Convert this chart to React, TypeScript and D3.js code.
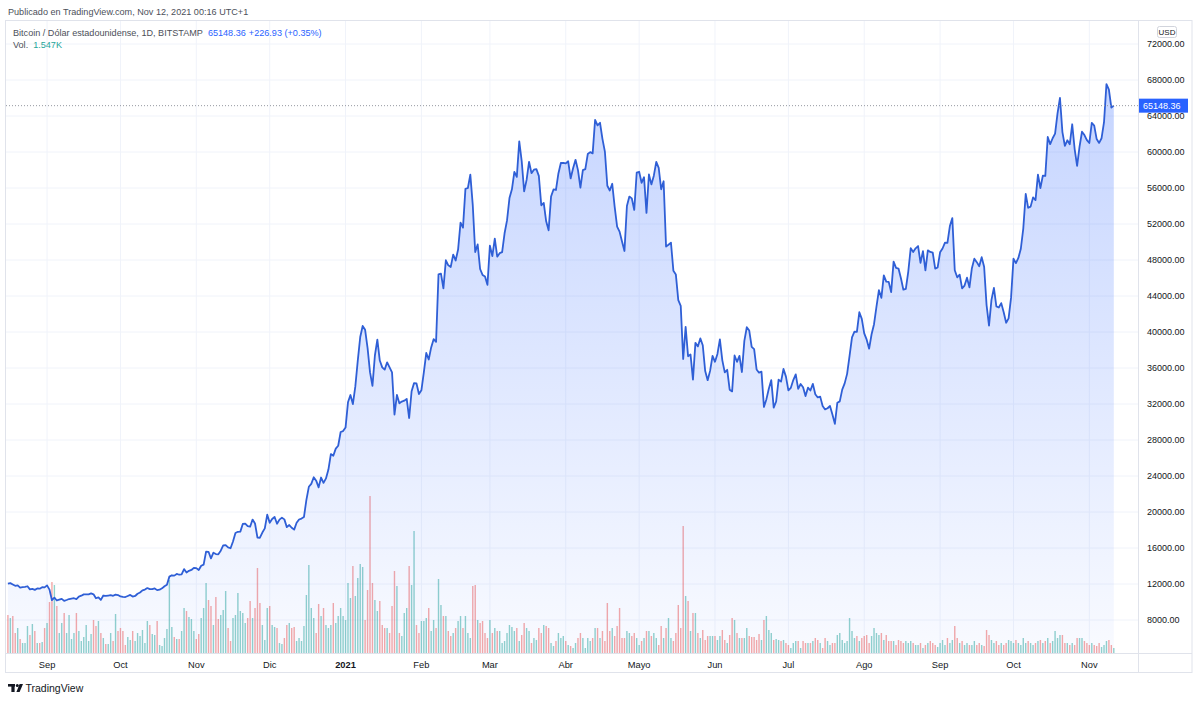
import React from "react";
import * as d3 from "d3";

// Daily closes (USD), BTC/USD Bitstamp, from 2020-08-16
const closes2020 = [
  12050, 12100, 11950, 11800, 11850, 11600, 11650, 11680, 11750, 11400, 11450, 11350, 11500, 11480, 11650, 11620,
  11850, 11380, 10200, 10480, 10170, 10260, 10350, 10120, 10220, 10330, 10380, 10420, 10320, 10600, 10700, 10850, 10850, 10850, 10950, 10850, 10420, 10520, 10230, 10720, 10680, 10720, 10760, 10690, 10820, 10770,
  10620, 10570, 10550, 10670, 10790, 10600, 10670, 10920, 11060, 11300, 11380, 11550, 11430, 11430, 11510, 11320, 11370, 11520, 11750, 11920, 12820, 12970, 12930, 13120, 13030, 13070, 13650, 13280, 13460, 13560, 13800,
  13760, 13550, 14030, 14150, 15590, 15580, 14840, 15480, 15330, 15300, 15700, 16280, 16330, 16070, 15970, 16720, 17660, 17800, 17820, 18670, 18700, 18420, 18370, 19160, 18720, 17150, 17140, 17720, 18180, 19700,
  18800, 19220, 19450, 18700, 19150, 19370, 19180, 18320, 18550, 18250, 18040, 18800, 19170, 19270, 19440, 21350, 22800, 23130, 23860, 23480, 22740, 23830, 23240, 23730, 24710, 26440, 26250, 27040, 27360, 28890, 28990,
];
const closes2021 = [
  29380, 32190, 33000, 31990, 33950, 36820, 39440, 40670, 40240, 38240, 35540, 34010, 37390, 39150, 36830, 36070, 35820, 36630, 36070, 35510, 30830, 33010, 32080, 32270, 32370, 32570, 30440, 33420, 34320, 34280, 33110,
  33520, 35510, 37670, 36950, 38290, 39200, 38900, 46400, 46480, 44840, 47970, 47410, 47230, 48600, 47950, 49160, 52150, 51600, 55900, 56000, 57490, 54090, 48890, 49730, 47000, 46340, 46160, 45240,
  49600, 48440, 50370, 48370, 48760, 48880, 50970, 52400, 54880, 55860, 57800, 57230, 61180, 59000, 55630, 56900, 58910, 57650, 58030, 58100, 57350, 54080, 54340, 52300, 51300, 55050, 55840, 55780, 57620, 58780, 58800,
  58740, 58970, 57060, 58200, 59130, 57990, 56030, 57980, 58100, 59770, 59990, 59850, 63580, 62960, 63250, 61460, 60050, 56250, 55720, 56470, 53900, 51700, 51150, 50050, 49000, 54000, 55050, 54850, 53560, 57700,
  57800, 56580, 57200, 53240, 57500, 56400, 57370, 58900, 58240, 55860, 56750, 49500, 49700, 49930, 46800, 46400, 43540, 42900, 37000, 40570, 37300, 37500, 34700, 38800, 38400, 39290, 38530, 35660, 34650, 35680, 37340,
  36690, 37560, 39190, 36850, 35520, 35800, 33590, 33400, 37390, 36690, 37340, 35550, 39020, 40530, 40160, 38350, 38100, 35840, 35480, 35600, 31680, 32510, 33690, 34660, 31590, 32280, 34700, 34490, 35900, 35040,
  33520, 33800, 34660, 35290, 33690, 34220, 33860, 32880, 33810, 33500, 34240, 33090, 32730, 32820, 31780, 31400, 31530, 31780, 30820, 29790, 32140, 32290, 33600, 34290, 35350, 37340, 39400, 40030, 40020, 42200, 41460,
  39850, 39150, 38150, 39750, 40870, 42820, 44640, 43800, 46290, 45600, 45570, 44430, 47820, 47120, 47050, 45970, 44700, 44800, 46720, 49320, 48890, 49300, 49550, 47690, 48990, 46850, 49070, 48900, 48810, 47040, 47170,
  48850, 49280, 49940, 49910, 51770, 52660, 46860, 46080, 46370, 44850, 45160, 46030, 44960, 47090, 48150, 47760, 47300, 48310, 47250, 42990, 40700, 43570, 44900, 42840, 42720, 43210, 42200, 41030, 41520, 43790,
  48140, 47650, 48230, 49250, 51490, 55340, 53800, 53930, 54960, 54660, 57480, 56000, 57370, 57350, 61670, 60870, 61530, 62040, 64280, 66000, 62210, 60690, 61300, 60860, 63080, 60330, 58450, 60590, 62250, 61880, 61320,
  61000, 63230, 62930, 61440, 61010, 61530, 63310, 67550, 66940, 64930, 65148.36,
];

// Daily volume (relative units)
const volumes2020 = [
  38, 35, 37, 20, 25, 14, 10, 10, 27, 18, 29, 22, 10, 10, 11, 25,
  30, 51, 71, 68, 47, 20, 30, 40, 20, 38, 14, 20, 40, 22, 12, 16, 28, 12, 19, 33, 27, 32, 20, 15, 9, 9, 20, 12, 39, 22,
  25, 22, 8, 16, 13, 22, 12, 20, 17, 23, 10, 32, 28, 19, 18, 32, 8, 7, 15, 24, 73, 26, 16, 14, 14, 22, 45, 42, 36, 34, 22,
  14, 19, 35, 45, 70, 53, 47, 28, 56, 34, 38, 43, 62, 25, 12, 35, 38, 60, 42, 40, 30, 35, 52, 35, 45, 85, 50, 28, 13, 45,
  47, 28, 26, 25, 10, 9, 15, 28, 30, 25, 26, 12, 15, 12, 27, 58, 88, 45, 35, 20, 49, 37, 45, 28, 25, 28, 50, 30, 37, 45, 37,
];
const volumes2021 = [
  33, 70, 55, 87, 57, 75, 89, 86, 33, 63, 157, 70, 53, 42, 52, 28, 25, 25, 20, 47, 82, 67, 20, 17, 40, 45, 87, 68, 122, 28, 20,
  32, 32, 35, 45, 22, 33, 25, 74, 48, 37, 37, 22, 17, 20, 25, 32, 37, 25, 37, 20, 15, 67, 68, 33, 30, 32, 20, 15,
  33, 20, 25, 22, 22, 10, 12, 20, 28, 26, 22, 25, 12, 18, 30, 25, 22, 10, 15, 13, 25, 20, 28, 27, 25, 10, 7, 12, 20, 15, 17,
  12, 8, 7, 5, 10, 15, 20, 15, 5, 15, 12, 15, 25, 25, 15, 22, 12, 50, 22, 25, 17, 27, 45, 15, 15, 22, 20, 17, 20, 15,
  8, 12, 15, 22, 22, 17, 20, 15, 8, 27, 15, 25, 35, 15, 12, 20, 48, 25, 127, 57, 52, 22, 40, 40, 20, 15, 23, 13, 17, 17, 17,
  17, 13, 17, 23, 13, 10, 18, 35, 33, 20, 15, 15, 15, 25, 17, 16, 16, 13, 19, 13, 33, 37, 23, 20, 13, 14, 13, 12, 13, 10,
  8, 5, 10, 12, 12, 5, 12, 10, 10, 10, 12, 15, 13, 10, 5, 15, 12, 8, 10, 10, 18, 20, 13, 10, 12, 35, 22, 15, 17, 12, 15,
  17, 18, 10, 17, 25, 20, 18, 20, 13, 18, 12, 12, 12, 8, 13, 12, 10, 12, 10, 12, 10, 8, 8, 10, 5, 8, 10, 12, 10, 8, 6,
  10, 13, 8, 15, 10, 13, 27, 15, 10, 12, 8, 10, 8, 8, 12, 8, 10, 8, 7, 23, 18, 13, 10, 12, 8, 10, 8, 10, 13, 12,
  10, 13, 10, 8, 15, 10, 12, 10, 8, 10, 12, 13, 10, 12, 15, 10, 12, 22, 15, 18, 18, 10, 10, 8, 10, 8, 15, 15, 15, 12, 10,
  8, 10, 8, 7, 10, 6, 8, 12, 13, 8, 5,
];

const monthLabels = ["Sep", "Oct", "Nov", "Dic", "2021", "Feb", "Mar", "Abr", "Mayo", "Jun", "Jul", "Ago", "Sep", "Oct", "Nov"];
const priceTicks = [8000, 12000, 16000, 20000, 24000, 28000, 32000, 36000, 40000, 44000, 48000, 52000, 56000, 60000, 64000, 68000, 72000];

const START = Date.UTC(2020, 7, 16);
const DAY = 86400000;

export default function App() {
  const closes = [...closes2020, ...closes2021];
  const vols = [...volumes2020, ...volumes2021];
  const data = closes.map((c, i) => ({
    date: new Date(START + i * DAY),
    close: c,
    vol: vols[i] ?? 0,
    up: i > 0 ? c >= closes[i - 1] : false,
  }));
  const last = data[data.length - 1];

  const x = d3.scaleUtc().domain([data[0].date, last.date]).range([7.9, 1113.8]);
  const y = d3.scaleLinear().domain([8000, 72000]).range([620, 44]);
  const vy = d3.scaleLinear().domain([0, d3.max(vols) as number]).range([653, 496]);

  const paneBottom = 653;
  const line = d3.line<any>().x((d) => x(d.date)).y((d) => y(d.close));
  const area = d3.area<any>().x((d) => x(d.date)).y0(paneBottom).y1((d) => y(d.close));

  const months = d3.utcMonth.range(new Date(Date.UTC(2020, 8, 1)), new Date(Date.UTC(2021, 11, 1)));

  const font = "'Liberation Sans', Arial, sans-serif";
  const textCol = "#131722";
  const gridCol = "#f0f3fa";
  const lastY = y(last.close);
  const topY = y(d3.max(closes) as number);

  return (
    <svg
      width={1200}
      height={702}
      style={{ position: "absolute", left: 0, top: 0, background: "#fff" }}
      fontFamily={font}
    >
      <defs>
        <linearGradient id="areaGrad" gradientUnits="userSpaceOnUse" x1="0" y1={topY} x2="0" y2={paneBottom}>
          <stop offset="0" stopColor="rgb(41,98,255)" stopOpacity={0.27} />
          <stop offset="1" stopColor="rgb(41,98,255)" stopOpacity={0.03} />
        </linearGradient>
        <clipPath id="pane">
          <rect x={6} y={21} width={1132} height={632} />
        </clipPath>
      </defs>
      <rect x={0} y={0} width={1200} height={702} fill="#fff" />

      <text x={8} y={14.5} fontSize={9.1} fill="#4c4f59">
        Publicado en TradingView.com, Nov 12, 2021 00:16 UTC+1
      </text>

      {/* grid */}
      {months.map((m, i) => (
        <line key={"vg" + i} x1={x(m)} x2={x(m)} y1={21} y2={paneBottom} stroke={gridCol} strokeWidth={1} />
      ))}
      {priceTicks.map((t) => (
        <line key={"hg" + t} x1={6} x2={1138} y1={y(t)} y2={y(t)} stroke={gridCol} strokeWidth={1} />
      ))}

      <g clipPath="url(#pane)">
        {/* volume */}
        {data.map((d, i) => (
          <rect
            key={"v" + i}
            x={x(d.date) - 0.7}
            y={vy(d.vol)}
            width={1.4}
            height={paneBottom - vy(d.vol)}
            fill={d.up ? "rgba(38,166,154,0.5)" : "rgba(239,83,80,0.5)"}
          />
        ))}
        <path d={area(data) as string} fill="url(#areaGrad)" />
        <path d={line(data) as string} fill="none" stroke="#2f5fd6" strokeWidth={1.8} strokeLinejoin="round" />
        <line x1={6} x2={1138} y1={lastY} y2={lastY} stroke="#9598a1" strokeWidth={1} strokeDasharray="1 2" />
      </g>

      {/* legend */}
      <text x={13} y={35.5} fontSize={9.1} fill="#4c4f59">
        Bitcoin / Dólar estadounidense, 1D, BITSTAMP
        <tspan dx={5} fill="#2962ff">65148.36</tspan>
        <tspan dx={3} fill="#2962ff">+226.93 (+0.35%)</tspan>
      </text>
      <text x={13} y={47.5} fontSize={9.1} fill="#4c4f59">
        Vol.
        <tspan dx={5} fill="#26a69a">1.547K</tspan>
      </text>

      {/* frame and separators */}
      <rect x={5.5} y={20.5} width={1186.5} height={652} fill="none" stroke="#e0e3eb" strokeWidth={1} />
      <line x1={1138.5} x2={1138.5} y1={20.5} y2={672.5} stroke="#e0e3eb" strokeWidth={1} />
      <line x1={5.5} x2={1192} y1={653.5} y2={653.5} stroke="#e0e3eb" strokeWidth={1} />

      {/* price axis */}
      {priceTicks.map((t) => (
        <text key={"pt" + t} x={1147} y={y(t) + 3.2} fontSize={9} fill={textCol}>
          {d3.format(".2f")(t)}
        </text>
      ))}
      <rect x={1157.5} y={26.5} width={19} height={11} rx={2} fill="#fff" stroke="#d1d4dc" />
      <text x={1167} y={35} fontSize={8} fill={textCol} textAnchor="middle">
        USD
      </text>
      <rect x={1139} y={lastY - 7} width={49} height={14} fill="#2962ff" />
      <text x={1143} y={lastY + 3.3} fontSize={9} fill="#fff">
        {d3.format(".2f")(last.close)}
      </text>

      {/* time axis */}
      {months.map((m, i) => (
        <text
          key={"ml" + i}
          x={x(m)}
          y={667.5}
          fontSize={9.3}
          fill={textCol}
          textAnchor="middle"
          fontWeight={monthLabels[i] === "2021" ? "bold" : "normal"}
        >
          {monthLabels[i]}
        </text>
      ))}

      {/* TradingView logo */}
      <g fill="#131722">
        <rect x={8} y={684} width={7} height={2.6} />
        <rect x={11.4} y={684} width={3.2} height={8} />
        <circle cx={17.3} cy={685.4} r={1.5} />
        <path d="M19.6 684 L23 684 L19.6 692 L16.4 692 Z" />
      </g>
      <text x={25.5} y={692} fontSize={10.5} fill="#131722">
        TradingView
      </text>
    </svg>
  );
}
